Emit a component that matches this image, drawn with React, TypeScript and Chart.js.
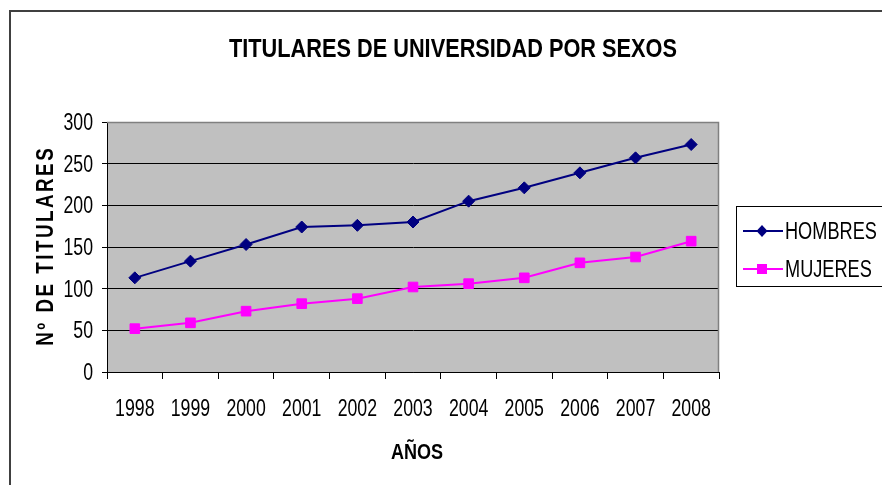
import React, { useEffect, useRef } from "react";
import { Chart, registerables } from "chart.js";

Chart.register(...registerables);

const years = ["1998", "1999", "2000", "2001", "2002", "2003", "2004", "2005", "2006", "2007", "2008"];
const hombres = [113, 133, 153, 174, 176, 180, 205, 221, 239, 257, 273];
const mujeres = [52, 59, 73, 82, 88, 102, 106, 113, 131, 138, 157];
const seriesLabels = ["HOMBRES", "MUJERES"];
const seriesColors = ["#000080", "#FF00FF"];
const yMin = 0;
const yMax = 300;
const yStep = 50;
const chartTitle = "TITULARES DE UNIVERSIDAD POR SEXOS";
const xTitle = "AÑOS";
const yTitle = "Nº DE TITULARES";

const FONT = "'Liberation Sans', Arial, sans-serif";

function condensed(ctx: CanvasRenderingContext2D, text: string, x: number, y: number, font: string, align: CanvasTextAlign, baseline: CanvasTextBaseline, sx: number) {
  ctx.save();
  ctx.translate(x, y);
  ctx.scale(sx, 1);
  ctx.font = font;
  ctx.textAlign = align;
  ctx.textBaseline = baseline;
  ctx.fillStyle = "#000";
  ctx.fillText(text, 0, 0);
  ctx.restore();
}

const decorPlugin = {
  id: "decor",
  beforeDraw(chart: any) {
    const { ctx, chartArea: a } = chart;
    ctx.save();
    ctx.fillStyle = "#FFFFFF";
    ctx.fillRect(0, 0, chart.width, chart.height);
    ctx.fillStyle = "#C0C0C0";
    ctx.fillRect(a.left, a.top, a.right - a.left, a.bottom - a.top);
    ctx.restore();
  },
  beforeDatasetsDraw(chart: any) {
    const { ctx, chartArea: a } = chart;
    ctx.save();
    ctx.strokeStyle = "#808080";
    ctx.lineWidth = 1.5;
    ctx.beginPath();
    ctx.moveTo(a.left, a.top + 0.5);
    ctx.lineTo(a.right - 0.5, a.top + 0.5);
    ctx.lineTo(a.right - 0.5, a.bottom);
    ctx.stroke();
    ctx.restore();
  },
  afterDraw(chart: any) {
    const { ctx, chartArea: a } = chart;
    const xs = chart.scales.x;
    const ys = chart.scales.y;
    ctx.save();
    // outer frame
    ctx.strokeStyle = "#404040";
    ctx.lineWidth = 2;
    ctx.strokeRect(10, 11, 1200, 1200);

    // tick labels (condensed)
    const tickFont = `23px ${FONT}`;
    xs.ticks.forEach((t: any, i: number) => {
      condensed(ctx, String(xs.getLabelForValue(t.value)), xs.getPixelForTick(i), 416, tickFont, "center", "alphabetic", 0.77);
    });
    ys.ticks.forEach((t: any, i: number) => {
      condensed(ctx, String(t.value), 93, ys.getPixelForTick(i) + 8, tickFont, "right", "alphabetic", 0.77);
    });

    // title
    condensed(ctx, chartTitle, 453, 57, `bold 26.5px ${FONT}`, "center", "alphabetic", 0.82);

    // x title
    condensed(ctx, xTitle, (a.left + a.right) / 2 + 4, 459, `bold 22px ${FONT}`, "center", "alphabetic", 0.82);

    // y title
    ctx.save();
    ctx.translate(44.5, 247);
    ctx.rotate(-Math.PI / 2);
    ctx.scale(0.82, 1);
    ctx.font = `bold 23px ${FONT}`;
    (ctx as any).letterSpacing = "3px";
    ctx.textAlign = "center";
    ctx.textBaseline = "alphabetic";
    ctx.fillStyle = "#000";
    ctx.fillText(yTitle, 1.5, 8.5);
    (ctx as any).letterSpacing = "0px";
    ctx.restore();

    // legend
    ctx.strokeStyle = "#000";
    ctx.lineWidth = 1;
    ctx.strokeRect(736.5, 206.5, 300, 80);
    const rows = [231, 269];
    for (let i = 0; i < 2; i++) {
      const y = rows[i];
      const c = seriesColors[i];
      ctx.strokeStyle = c;
      ctx.fillStyle = c;
      ctx.lineWidth = 2;
      ctx.beginPath();
      ctx.moveTo(743, y);
      ctx.lineTo(783, y);
      ctx.stroke();
      ctx.beginPath();
      if (i === 0) {
        ctx.moveTo(762 - 5.5, y);
        ctx.lineTo(762, y - 6);
        ctx.lineTo(762 + 5.5, y);
        ctx.lineTo(762, y + 6);
        ctx.closePath();
      } else {
        ctx.rect(762 - 5, y - 5, 10, 10);
      }
      ctx.fill();
      condensed(ctx, seriesLabels[i], 785, y + 8, tickFont, "left", "alphabetic", 0.79);
    }
    ctx.restore();
  },
};

export default function App() {
  const ref = useRef<HTMLCanvasElement | null>(null);
  useEffect(() => {
    if (!ref.current) return;
    const chart = new Chart(ref.current, {
      type: "line",
      data: {
        labels: years,
        datasets: [
          {
            label: seriesLabels[0],
            data: hombres,
            borderColor: seriesColors[0],
            backgroundColor: seriesColors[0],
            borderWidth: 2,
            pointStyle: "rectRot",
            pointRadius: 6,
            pointBorderWidth: 1,
            pointBackgroundColor: seriesColors[0],
            pointBorderColor: seriesColors[0],
            tension: 0,
          },
          {
            label: seriesLabels[1],
            data: mujeres,
            borderColor: seriesColors[1],
            backgroundColor: seriesColors[1],
            borderWidth: 2,
            pointStyle: "rect",
            pointRadius: 6.8,
            pointBorderWidth: 1,
            pointBackgroundColor: seriesColors[1],
            pointBorderColor: seriesColors[1],
            tension: 0,
          },
        ],
      },
      options: {
        responsive: false,
        animation: false,
        layout: { padding: { left: 0, top: 122, right: 163, bottom: 0 } },
        plugins: {
          legend: { display: false },
          title: { display: false },
          tooltip: { enabled: false },
        },
        scales: {
          x: {
            type: "category",
            offset: true,
            grid: {
              offset: true,
              drawOnChartArea: false,
              drawTicks: true,
              tickLength: 7,
              color: "#000",
            },
            border: { display: true, color: "#000", width: 1 },
            ticks: {
              color: "rgba(0,0,0,0)",
              font: { family: FONT, size: 16 },
              padding: 15,
              autoSkip: false,
              maxRotation: 0,
              minRotation: 0,
            },
            afterFit(scale: any) {
              scale.height = 113;
            },
          },
          y: {
            min: yMin,
            max: yMax,
            grid: {
              color: "#000",
              lineWidth: 1,
              drawTicks: true,
              tickLength: 5,
            },
            border: { display: true, color: "#000", width: 1 },
            ticks: {
              stepSize: yStep,
              color: "rgba(0,0,0,0)",
              font: { family: FONT, size: 16 },
              padding: 10,
            },
            afterFit(scale: any) {
              scale.width = 107;
            },
          },
        },
      },
      plugins: [decorPlugin],
    });
    return () => chart.destroy();
  }, []);
  return (
    <div style={{ position: "fixed", left: 0, top: 0, width: 882, height: 485, background: "#fff" }}>
      <canvas ref={ref} width={882} height={485} style={{ display: "block" }} />
    </div>
  );
}
